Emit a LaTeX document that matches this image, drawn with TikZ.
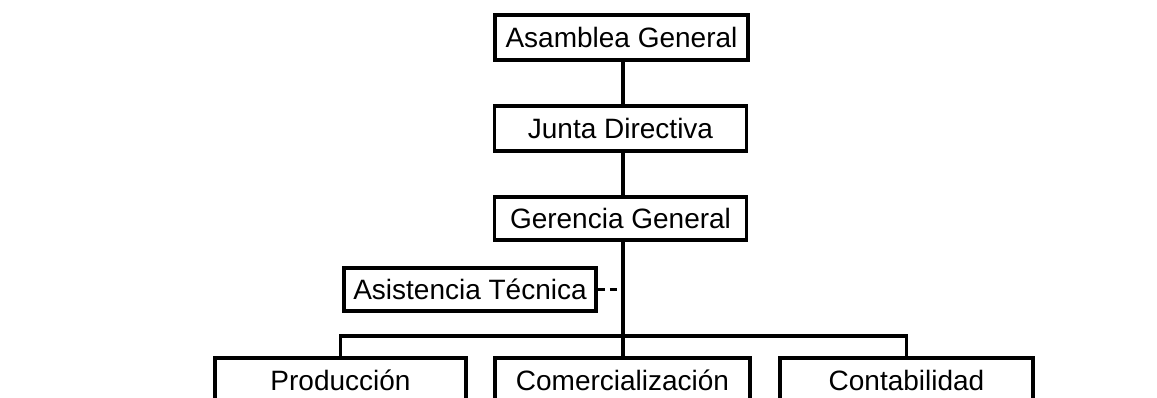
\documentclass[tikz,border=0pt]{standalone}
\usepackage{fontspec}
\setmainfont{Liberation Sans}
\begin{document}
\begin{tikzpicture}[x=1pt,y=-1pt,
  orgbox/.style={draw=black,line width=3.6pt,fill=white,rectangle,
    minimum width=252pt,minimum height=45pt,inner sep=0pt,
    font=\fontsize{28}{33}\selectfont},
  link/.style={line width=3.6pt,line cap=rect},
  dashlink/.style={line width=3.4pt,dash pattern=on 7pt off 5pt}]
\useasboundingbox (0,0) rectangle (1157,398);
\clip (0,0) rectangle (1157,398);
\fill[white] (0,0) rectangle (1157,398);
% trunk nodes
\node[orgbox,minimum width=253pt] (asamblea) at (621.5,37.5) {Asamblea General};
\node[orgbox] (junta) at (620.5,128.5) {Junta Directiva};
\node[orgbox,minimum height=43pt] (gerencia) at (620.5,218.5) {Gerencia General};
\node[orgbox,minimum height=43pt] (asist) at (470,289.5) {Asistencia Técnica};
% bottom row
\node[orgbox,minimum width=251pt] (prod) at (340.5,380.5) {Producción};
\node[orgbox,minimum width=255pt] (comer) at (622.5,380.5) {Comercialización};
\node[orgbox,minimum width=253pt] (conta) at (906.5,380.5) {Contabilidad};
% connectors
\coordinate (trunk) at (623,0);
\coordinate (bus) at (623,336);
\draw[link] (asamblea.south -| trunk) -- (junta.north -| trunk);
\draw[link] (junta.south -| trunk) -- (gerencia.north -| trunk);
\draw[link] (gerencia.south -| trunk) -- (comer.north -| trunk);
\draw[link] (prod.north) |- (bus) -| (conta.north);
\draw[dashlink] (asist.east) -- (asist.east -| trunk);
\end{tikzpicture}
\end{document}
